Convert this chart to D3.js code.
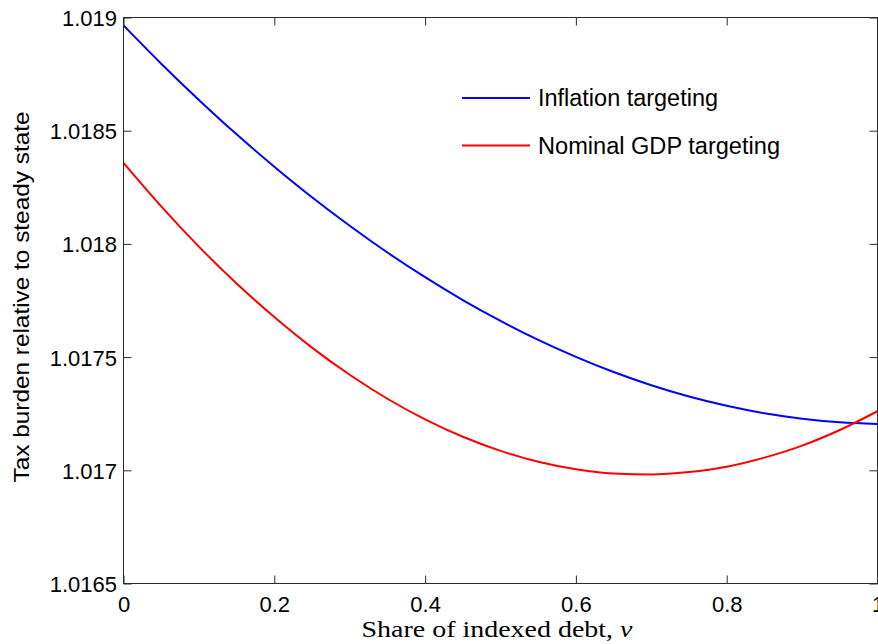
<!DOCTYPE html>
<html>
<head>
<meta charset="utf-8">
<script src="https://cdn.jsdelivr.net/npm/d3@7/dist/d3.min.js"></script>
<style>
  html, body { margin: 0; padding: 0; background: #fff; }
  svg { display: block; }
  text { font-family: "Liberation Sans", Arial, sans-serif; fill: #000; }
</style>
</head>
<body>
<svg id="chart" width="878" height="644"></svg>
<script>
// Share of indexed debt (x) and the tax burden under each policy rule
const shareIndexed = [0, 0.05, 0.1, 0.15, 0.2, 0.25, 0.3, 0.35, 0.4, 0.45, 0.5,
                      0.55, 0.6, 0.65, 0.7, 0.75, 0.8, 0.85, 0.9, 0.95, 1.0];
const inflationTargeting = [1.018965, 1.018796, 1.018636, 1.018484, 1.018341, 1.018206,
                            1.018080, 1.017962, 1.017853, 1.017752, 1.017660, 1.017576,
                            1.017501, 1.017434, 1.017376, 1.017326, 1.017285, 1.017252,
                            1.017228, 1.017212, 1.017205];
const nominalGdpTargeting = [1.018358, 1.018166, 1.017988, 1.017825, 1.017677, 1.017542,
                             1.017422, 1.017316, 1.017225, 1.017148, 1.017086, 1.017038,
                             1.017005, 1.016986, 1.016981, 1.016992, 1.017016, 1.017056,
                             1.017109, 1.017178, 1.017261];
const seriesNames = ["Inflation targeting", "Nominal GDP targeting"];
const seriesColors = ["#0000ff", "#ff0000"];
const xTicks = [0, 0.2, 0.4, 0.6, 0.8, 1];
const yTicks = [1.0165, 1.017, 1.0175, 1.018, 1.0185, 1.019];

const svg = d3.select("#chart");
const plotLeft = 123.5, plotTop = 17.5, plotW = 754, plotH = 566;
const axisColor = "#2b2b2b";

const x = d3.scaleLinear().domain([0, 1]).range([0, plotW]);
const y = d3.scaleLinear().domain([1.0165, 1.019]).range([plotH, 0]);

const g = svg.append("g").attr("transform", `translate(${plotLeft},${plotTop})`);

// Curves
const series = [inflationTargeting, nominalGdpTargeting];
const line = d3.line()
  .x((d, i) => x(shareIndexed[i]))
  .y(d => y(d))
  .curve(d3.curveMonotoneX);

series.forEach((vals, k) => {
  g.append("path")
    .datum(vals)
    .attr("fill", "none")
    .attr("stroke", seriesColors[k])
    .attr("stroke-width", 2)
    .attr("d", line);
});

// Axes with inward ticks on all four sides
function styleAxis(sel) {
  sel.select(".domain").remove();
  sel.selectAll(".tick line").attr("stroke", axisColor);
  sel.selectAll(".tick text").style("font-size", "22px").attr("fill", "#000");
}

g.append("g")
  .attr("transform", `translate(0,${plotH})`)
  .call(d3.axisBottom(x).tickValues(xTicks).tickSizeInner(-8).tickSizeOuter(0)
        .tickPadding(13).tickFormat(d3.format("~g")))
  .call(styleAxis);

g.append("g")
  .call(d3.axisTop(x).tickValues(xTicks).tickSizeInner(-8).tickSizeOuter(0).tickFormat(""))
  .call(styleAxis);

g.append("g")
  .call(d3.axisLeft(y).tickValues(yTicks).tickSizeInner(-8).tickSizeOuter(0)
        .tickPadding(6.5).tickFormat(d => String(d)))
  .call(styleAxis)
  .selectAll(".tick text").attr("dy", "0.36em");

g.append("g")
  .attr("transform", `translate(${plotW},0)`)
  .call(d3.axisRight(y).tickValues(yTicks).tickSizeInner(-8).tickSizeOuter(0).tickFormat(""))
  .call(styleAxis);

// Box
g.append("rect")
  .attr("x", 0).attr("y", 0)
  .attr("width", plotW).attr("height", plotH)
  .attr("fill", "none")
  .attr("stroke", axisColor)
  .attr("stroke-width", 1);

// Legend
const legendTextWidths = [180, 242];
const legend = svg.append("g").attr("transform", "translate(462,98)");
seriesNames.forEach((name, k) => {
  const row = legend.append("g").attr("transform", `translate(0,${k * 47.5})`);
  row.append("line")
    .attr("x1", 0).attr("x2", 68)
    .attr("y1", 0).attr("y2", 0)
    .attr("stroke", seriesColors[k])
    .attr("stroke-width", 2);
  row.append("text")
    .attr("x", 76).attr("y", 8.3)
    .attr("textLength", legendTextWidths[k])
    .attr("lengthAdjust", "spacingAndGlyphs")
    .style("font-size", "23px")
    .text(name);
});

// Axis titles
svg.append("text")
  .attr("transform", "translate(29,297) rotate(-90)")
  .attr("text-anchor", "middle")
  .attr("textLength", 371)
  .attr("lengthAdjust", "spacingAndGlyphs")
  .style("font-size", "22.5px")
  .text("Tax burden relative to steady state");

const xTitle = svg.append("text")
  .attr("x", 497).attr("y", 637)
  .attr("text-anchor", "middle")
  .attr("textLength", 271)
  .attr("lengthAdjust", "spacingAndGlyphs")
  .style("font-family", "'Liberation Serif', 'Times New Roman', serif")
  .style("font-size", "23px");
xTitle.append("tspan").text("Share of indexed debt, ");
xTitle.append("tspan").style("font-style", "italic").text("v");
</script>
</body>
</html>
